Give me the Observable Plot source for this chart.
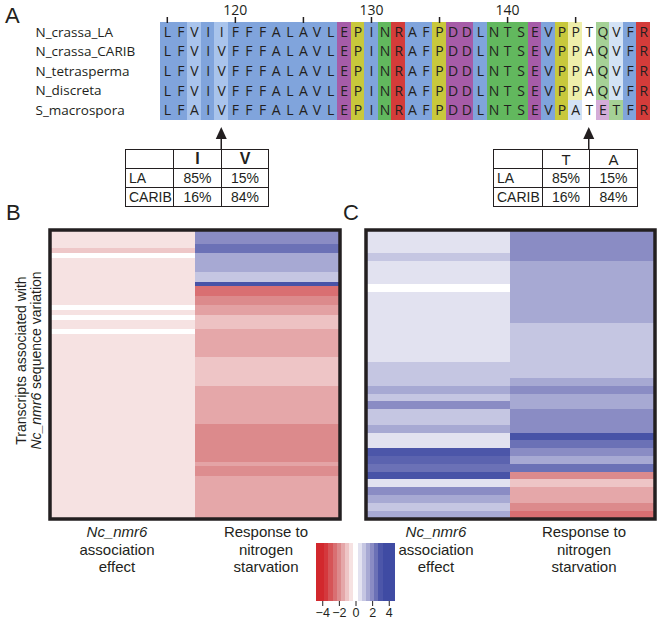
<!DOCTYPE html>
<html><head><meta charset="utf-8">
<script src="https://cdn.jsdelivr.net/npm/d3@7"></script>
<script src="https://cdn.jsdelivr.net/npm/@observablehq/plot@0.6"></script>
<style>
body{margin:0;background:#fff;}
#fig{position:relative;width:660px;height:624px;background:#fff;font-family:"Liberation Sans",Arial,sans-serif;color:#231f20;overflow:hidden;}
#fig svg{position:absolute;overflow:visible;background:transparent;}
.lbl{position:absolute;text-align:center;font-size:15px;line-height:17.5px;white-space:nowrap;}
.panel{position:absolute;font-size:22px;line-height:22px;}
table.t{position:absolute;border-collapse:collapse;table-layout:fixed;font-size:14px;z-index:2;background:#fff;}
table.t td{border:1.5px solid #231f20;height:18px;padding:0;text-align:center;}
table.t td.rl{text-align:left;padding-left:3px;}
#ylab{position:absolute;width:240px;text-align:center;font-size:14px;line-height:14.5px;transform:rotate(-90deg);transform-origin:50% 50%;white-space:nowrap;}
</style></head><body><div id="fig"></div>
<script>
// ---------- Panel A data ----------
const species = ["N_crassa_LA","N_crassa_CARIB","N_tetrasperma","N_discreta","S_macrospora"];
const sequences = [
  "LFVIIFFFALAVLEPINRAFPDDLNTSEVPPTQVFR",
  "LFVIVFFFALAVLEPINRAFPDDLNTSEVPPAQVFR",
  "LFVIVFFFALAVLEPINRAFPDDLNTSEVPPAQVFR",
  "LFVIVFFFALAVLEPINRAFPDDLNTSEVPPAQVFR",
  "LFAIVFFFALAVLEPINRAFPDDLNTSEVPATETFR"
];
const firstPosition = 115;
const positionTicks = [115,120,125,130,135,140,145];
// column conservation shading level (0 = conserved, 1 = medium, 2 = weak, null = uncoloured)
const conservation = [0,0,1,0,1,0,0,0,0,0, 0,0,0,0,0,0,0,0,0,0, 0,0,0,0,0,0,0,0,0,0, 2,null,2,2,0,0];
const arrowPositions = [119,146];
const tableLeft = {cols:["","I","V"], rows:[["LA","85%","15%"],["CARIB","16%","84%"]]};
const tableRight = {cols:["","T","A"], rows:[["LA","85%","15%"],["CARIB","16%","84%"]]};

// ---------- Panel B/C data: [startRow, endRow, value] ----------
const bRows = 61;
const bAssociation = [[0,4,-0.5],[4,5,-0.95],[5,6,0],[6,16,-0.5],[16,17,0],[17,18,-0.5],[18,19,0],[19,21,-0.5],[21,22,0],[22,61,-0.5]];
const bResponse = [[0,3,2.0],[3,5,2.5],[5,9,1.5],[9,11,1.0],[11,12,3.05],[12,14,-2.5],[14,16,-2.0],[16,18,-1.6],[18,21,-1.05],[21,27,-1.5],[27,33,-1.0],[33,41,-1.5],[41,49,-2.0],[49,50,-1.55],[50,52,-1.95],[52,61,-1.5]];
const cRows = 37;
const cAssociation = [[0,3,0.5],[3,4,1.0],[4,7,0.5],[7,8,0],[8,17,0.5],[17,20,1.0],[20,21,1.5],[21,22,1.0],[22,23,2.0],[23,25,1.0],[25,26,1.5],[26,28,0.5],[28,29,3.0],[29,30,2.75],[30,31,2.5],[31,32,3.05],[32,33,0.5],[33,34,2.0],[34,35,1.5],[35,36,1.0],[36,37,1.5]];
const cResponse = [[0,4,2.0],[4,12,1.5],[12,19,1.0],[19,20,1.5],[20,21,2.0],[21,23,1.5],[23,26,2.0],[26,27,3.05],[27,28,2.5],[28,29,2.0],[29,30,1.5],[30,31,2.5],[31,32,-2.0],[32,33,-1.0],[33,35,-1.5],[35,36,-2.0],[36,37,-2.5]];
const columnLabels = [["Nc_nmr6","association","effect"],["Response to","nitrogen","starvation"]];
const legendSteps = [-4.5,-4,-3.5,-3,-2.5,-2,-1.5,-1,-0.5,0,0.5,1,1.5,2,2.5,3,3.5,4,4.5];
const legendTicks = [-4,-2,0,2,4];

// ---------- styles ----------
const groupOf = {L:"hyd",F:"hyd",V:"hyd",I:"hyd",A:"hyd",E:"acid",D:"acid",P:"pro",N:"pol",T:"pol",S:"pol",Q:"pol",R:"pos"};
const fillDomain = ["hyd0","hyd1","hyd2","acid0","acid2","pro0","pro2","pol0","pol2","pos0","none"];
const fillRange  = ["#80a4dc","#a9c4ec","#d3e2f5","#a65ca8","#d4acd8","#c8c83c","#eeeeaa","#62b85e","#a5d196","#d43c3a","#ffffff"];
const heatColor = {type:"linear", domain:[-3.8,-2,0,2,3.2], range:["#d2282d","#dc8a8c","#ffffff","#8a8cc4","#3f4ba3"], interpolate:"rgb", clamp:true};
const ink = "#231f20";

const fig = document.getElementById("fig");
function place(el, left, top){ el.style.left = left+"px"; el.style.top = top+"px"; fig.appendChild(el); return el; }

// ---------- Panel A ----------
const cells = [];
species.forEach((sp, i) => {
  [...sequences[i]].forEach((res, j) => {
    const lv = conservation[j];
    cells.push({species: sp, pos: firstPosition + j, res, key: lv === null ? "none" : groupOf[res] + lv});
  });
});
const positions = d3.range(firstPosition, firstPosition + sequences[0].length);
const align = Plot.plot({
  width: 660, height: 150,
  marginLeft: 160, marginRight: 10, marginTop: 22, marginBottom: 30,
  x: {type: "band", domain: positions, padding: 0, round: false},
  y: {type: "band", domain: species, padding: 0, range: [22, 120], round: false, axis: null},
  color: {type: "ordinal", domain: fillDomain, range: fillRange},
  style: {fontFamily: "'Open Sans', sans-serif", color: ink, background: "transparent"},
  marks: [
    Plot.cell(cells, {x: "pos", y: "species", fill: "key", inset: 0, shapeRendering: "crispEdges"}),
    Plot.text(cells, {x: "pos", y: "species", text: "res", fontSize: 14, fill: ink}),
    Plot.axisX({anchor: "top", ticks: positionTicks, tickFormat: d => d % 10 === 0 ? String(d) : "", tickSize: 6, tickPadding: 2, fontSize: 14, strokeWidth: 1.5, label: null}),
    Plot.text(species, {y: d => d, frameAnchor: "left", textAnchor: "start", dx: -125, fontSize: 13.5, fill: ink})
  ]
});
place(align, 0, 0);
{
  const xs = align.scale("x");
  const g = d3.select(align).append("g").attr("fill", ink);
  for (const p of arrowPositions) {
    const cx = xs.apply(p) + xs.bandwidth / 2;
    g.append("line").attr("x1", cx).attr("x2", cx).attr("y1", 149).attr("y2", 136).attr("stroke", ink).attr("stroke-width", 1.5);
    g.append("path").attr("d", `M${cx},127L${cx-5.5},139L${cx+5.5},139Z`);
  }
}
function makeTable(t, left, widths, boldHeader){
  const tb = document.createElement("table");
  tb.className = "t";
  tb.style.width = d3.sum(widths) + "px";
  const cg = document.createElement("colgroup");
  widths.forEach(w => { const c = document.createElement("col"); c.style.width = w + "px"; cg.appendChild(c); });
  tb.appendChild(cg);
  const hr = tb.insertRow();
  t.cols.forEach(c => { const td = hr.insertCell(); td.textContent = c; if (boldHeader) td.style.fontWeight = "bold"; td.style.fontSize = boldHeader ? "16px" : "15px"; });
  t.rows.forEach(r => { const tr = tb.insertRow(); r.forEach((v, k) => { const td = tr.insertCell(); td.textContent = v; if (k === 0) td.className = "rl"; }); });
  return place(tb, left, 149);
}
makeTable(tableLeft, 125, [48,48,47], true);
makeTable(tableRight, 493, [49,47,48], false);

// ---------- Panels B and C ----------
function heat(assoc, resp, nRows, width, ml, mr){
  const segs = [...assoc.map(d => ({col: 0, s: d[0], e: d[1], v: d[2]})), ...resp.map(d => ({col: 1, s: d[0], e: d[1], v: d[2]}))];
  return Plot.plot({
    width, height: 325, marginLeft: ml, marginRight: mr, marginTop: 29.5, marginBottom: 6.5,
    x: {domain: [0, 2], axis: null},
    y: {domain: [0, nRows], reverse: true, axis: null},
    color: heatColor,
    style: {background: "transparent"},
    marks: [
      Plot.rect(segs, {x1: "col", x2: d => d.col + 1, y1: "s", y2: "e", fill: "v", shapeRendering: "crispEdges"}),
      Plot.frame({stroke: ink, strokeWidth: 3.5})
    ]
  });
}
place(heat(bAssociation, bResponse, bRows, 345, 49.5, 5.5), 0, 200);
place(heat(cAssociation, cResponse, cRows, 320, 25.5, 5.5), 340, 200);

function colLabel(lines, cx){
  const d = document.createElement("div");
  d.className = "lbl";
  d.style.width = "140px";
  d.innerHTML = lines.map((l, k) => (l.startsWith("Nc_") ? `<i>${l}</i>` : l)).join("<br>");
  place(d, cx - 70, 523);
}
colLabel(columnLabels[0], 117); colLabel(columnLabels[1], 266);
colLabel(columnLabels[0], 436); colLabel(columnLabels[1], 584);

const yl = document.createElement("div");
yl.id = "ylab";
yl.innerHTML = "Transcripts associated with<br><i>Nc_nmr6</i> sequence variation";
place(yl, 27.5 - 120, 360 - 14.5);

// ---------- legend ----------
const legend = Plot.plot({
  width: 111, height: 89, marginLeft: 16, marginRight: 16, marginTop: 8, marginBottom: 23,
  x: {domain: [-4.75, 4.75]},
  y: {domain: [0, 1], axis: null},
  color: heatColor,
  style: {fontFamily: "'Liberation Sans', Arial, sans-serif", color: ink, background: "transparent"},
  marks: [
    Plot.rect(legendSteps, {x1: d => d - 0.25, x2: d => d + 0.25, y1: 0, y2: 1, fill: d => d, shapeRendering: "crispEdges"}),
    Plot.axisX({ticks: legendTicks, tickSize: 5, tickPadding: 2, fontSize: 12.5, label: null})
  ]
});
place(legend, 300, 535);

// ---------- panel letters ----------
[["A", 5, 4.5], ["B", 6, 202], ["C", 343, 202]].forEach(([t, x, y]) => {
  const d = document.createElement("div"); d.className = "panel"; d.textContent = t; place(d, x, y);
});
</script></body></html>
